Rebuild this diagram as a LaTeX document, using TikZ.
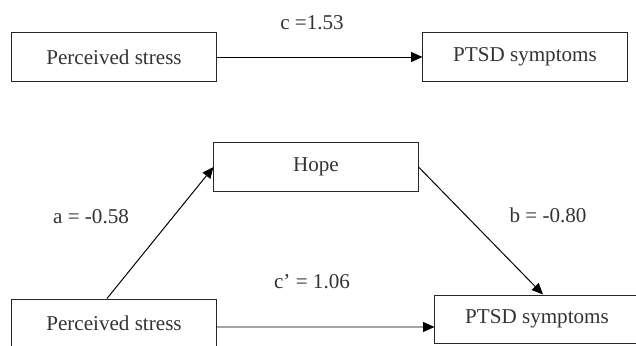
\documentclass[tikz,border=0pt]{standalone}
\usepackage{fontspec}
\setmainfont{Liberation Serif}
\usetikzlibrary{arrows.meta}

\tikzset{
  varbox/.style={draw=black!85, line width=0.7pt, rectangle, minimum width=5.1cm,
    minimum height=1.2cm, text=black!80, inner sep=0pt},
  coeff/.style={text=black!80, inner sep=0pt},
  path/.style={line width=0.7pt, ->, >={Triangle[length=8pt,width=7pt]}}
}

\begin{document}
\begin{tikzpicture}[x=0.025cm, y=-0.025cm, font=\fontsize{15}{18}\selectfont]

    \useasboundingbox (0,0) rectangle (636,346);

    % total effect
    \node[varbox] (stressA) at (114,57) {Perceived stress};
    \node[varbox] (ptsdA) at (525,57) {PTSD symptoms};
    \draw [path] (stressA.east) -- (ptsdA.west);
    \node[coeff] (lblc) at (312,23) {c =1.53};

    % mediation model
    \node[varbox] (hope) at (316,167) {Hope};
    \node[varbox] (stressB) at (114,323) {Perceived stress};
    \node[varbox] (ptsdB) at (537,319) {PTSD symptoms};

    %% paths
    \draw [path] ([xshift=-0.175cm]stressB.north) -- (hope.west);
    \draw [path] (hope.east) -- ([xshift=0.15cm]ptsdB.north);
    \draw [path] ([yshift=-0.1cm]stressB.east) -- ([yshift=-0.2cm]ptsdB.west);

    %% coefficients
    \node[coeff] (lbla) at (91,217) {a = -0.58};
    \node[coeff] (lblb) at (548,215) {b = -0.80};
    \node[coeff] (lblcp) at (312,282) {c’ = 1.06};

\end{tikzpicture}
\end{document}
